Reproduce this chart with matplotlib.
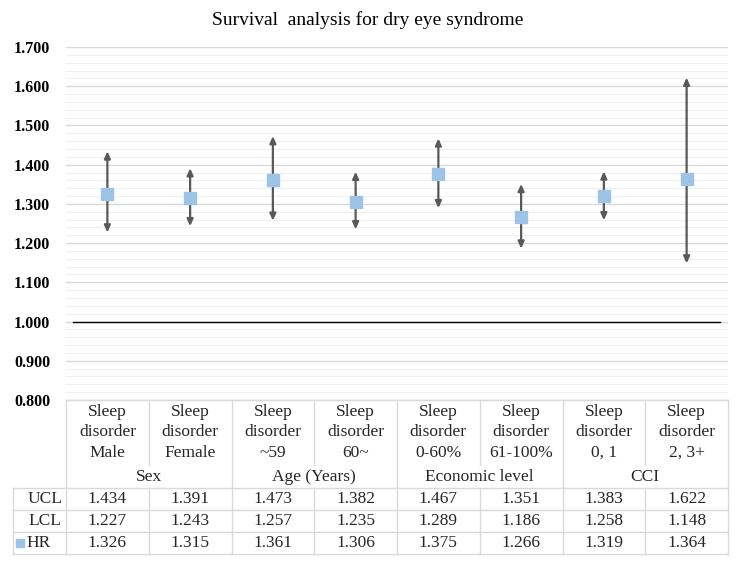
import numpy as np
import matplotlib
matplotlib.use("Agg")
import matplotlib.pyplot as plt

plt.rcParams['font.family'] = ['Liberation Serif', 'DejaVu Serif']

# data
subgroups = ['Male', 'Female', '~59', '60~', '0-60%', '61-100%', '0, 1', '2, 3+']
groups = ['Sex', 'Age (Years)', 'Economic level', 'CCI']
ucl = [1.434, 1.391, 1.473, 1.382, 1.467, 1.351, 1.383, 1.622]
lcl = [1.227, 1.243, 1.257, 1.235, 1.289, 1.186, 1.258, 1.148]
hr = [1.326, 1.315, 1.361, 1.306, 1.375, 1.266, 1.319, 1.364]
ref_line = 1.0

W, H = 741, 566
fig = plt.figure(figsize=(W / 100, H / 100), dpi=100)

def px(x0, y0, x1, y1):
    return [x0 / W, 1 - y1 / H, (x1 - x0) / W, (y1 - y0) / H]

ax = fig.add_axes(px(66, 47, 728, 400))
x = np.arange(len(hr))
bar_col = '#595959'
hr_col = '#9dc3e6'
grid_col = '#d9d9d9'

ax.set_xlim(-0.5, len(hr) - 0.5)
ax.set_ylim(0.8, 1.7)
ax.set_yticks(np.arange(0.8, 1.701, 0.1))
ax.set_yticks(np.arange(0.8, 1.701, 0.02), minor=True)
ax.yaxis.set_major_formatter(plt.FuncFormatter(lambda v, p: f'{v:.3f}'))
ax.tick_params(axis='y', which='both', length=0, pad=11.5, labelsize=11.5)
for lab in ax.get_yticklabels():
    lab.set_fontweight('bold')
ax.set_xticks([])
ax.grid(axis='y', which='major', color=grid_col, lw=1.0)
ax.grid(axis='y', which='minor', color='#efefef', lw=0.8)
ax.set_axisbelow(True)
for s in ax.spines.values():
    s.set_visible(False)

ax.axhline(ref_line, xmin=0.011, xmax=0.988, color='black', lw=1.0, zorder=2)

for xi, lo, hi in zip(x, lcl, ucl):
    ax.annotate('', xy=(xi, hi), xytext=(xi, lo),
                arrowprops=dict(arrowstyle='<|-|>,head_length=0.4,head_width=0.18',
                                color=bar_col, lw=1.6, shrinkA=0, shrinkB=0),
                zorder=3)
ax.plot(x, hr, 's', color=hr_col, ms=9, zorder=4, ls='none')

fig.text(368 / W, 1 - 20 / H, 'Survival  analysis for dry eye syndrome',
         ha='center', va='center', fontsize=14)

# data table under the plot
tb = fig.add_axes(px(66, 400, 728, 554))
tb.set_xlim(-0.5, len(hr) - 0.5)
tb.set_ylim(554, 400)
tb.axis('off')
lc = '#d9d9d9'
lkw = dict(color=lc, lw=1.0, clip_on=False)
left = -0.5 - 53 / 82.75

tb.plot([-0.5, 7.5], [400, 400], **lkw)
for yy in [488, 510, 532, 554]:
    tb.plot([left, 7.5], [yy, yy], **lkw)
tb.plot([left, left], [488, 554], **lkw)
for b in np.arange(-0.5, len(hr), 1.0):
    if round(b + 0.5) % 2 == 0:
        tb.plot([b, b], [400, 554], **lkw)
    else:
        tb.plot([b, b], [400, 465], **lkw)
        tb.plot([b, b], [488, 554], **lkw)

fs = 12.5
tc = '#262626'
for xi, sg in zip(x, subgroups):
    tb.text(xi, 412, 'Sleep', ha='center', va='center', fontsize=fs, color=tc)
    tb.text(xi, 432, 'disorder', ha='center', va='center', fontsize=fs, color=tc)
    tb.text(xi, 453, sg, ha='center', va='center', fontsize=fs, color=tc)
for gi, g in enumerate(groups):
    tb.text(2 * gi + 0.5, 477, g, ha='center', va='center', fontsize=fs, color=tc)

for yy, vals in zip([499, 521, 543], [ucl, lcl, hr]):
    for xi, v in zip(x, vals):
        tb.text(xi, yy, f'{v:.3f}', ha='center', va='center', fontsize=fs, color=tc)

tb.text(-0.5 - 4 / 82.75, 499, 'UCL', ha='right', va='center', fontsize=fs, color=tc)
tb.text(-0.5 - 5 / 82.75, 521, 'LCL', ha='right', va='center', fontsize=fs, color=tc)
tb.text(-0.5 - 40 / 82.75, 543, 'HR', ha='left', va='center', fontsize=fs, color=tc)
tb.plot([-0.5 - 46 / 82.75], [543], 's', color=hr_col, ms=5.5, clip_on=False)

fig.savefig('out.png', dpi=100, facecolor='white')
